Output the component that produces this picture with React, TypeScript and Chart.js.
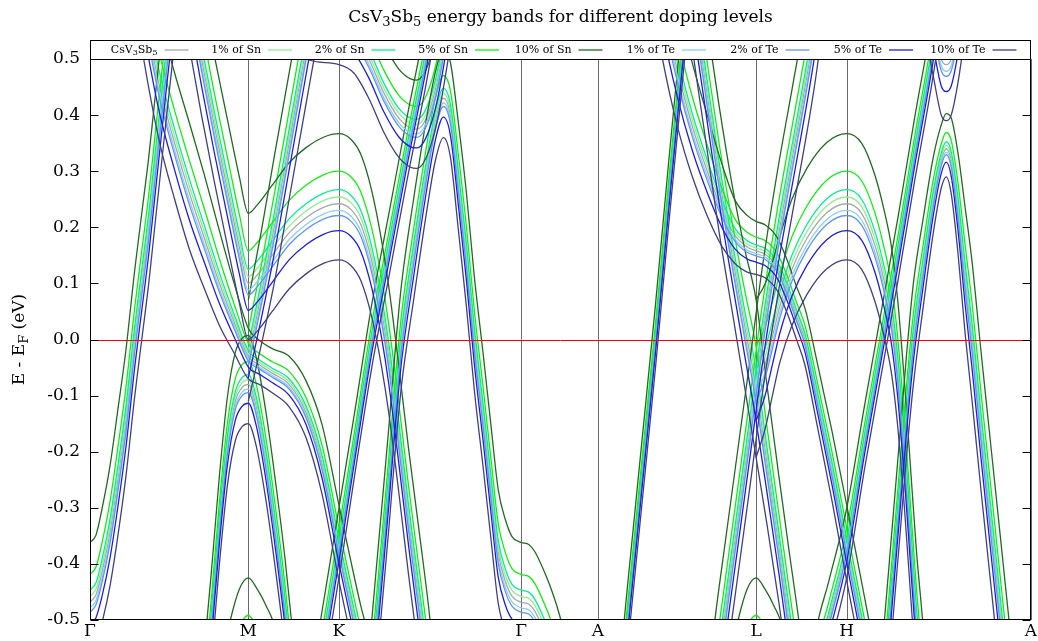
import React, { useEffect, useRef } from 'react';
import { Chart, registerables } from 'chart.js';

Chart.register(...registerables);

// k-path positions of the high-symmetry points and their labels
const SYMMETRY_POSITIONS = [0, 159, 250, 433, 510, 669, 760, 945];
const SYMMETRY_LABELS = ['Γ', 'M', 'K', 'Γ', 'A', 'L', 'H', 'A'];
const ENERGY_TICKS = [-0.5, -0.4, -0.3, -0.2, -0.1, 0.0, 0.1, 0.2, 0.3, 0.4, 0.5];

// doping series
const DOPING_LABELS = ['CsV_3Sb_5', '1% of Sn', '2% of Sn', '5% of Sn', '10% of Sn', '1% of Te', '2% of Te', '5% of Te', '10% of Te'];
const DOPING_COLORS = ['#a8a8a8', '#90ee90', '#00f090', '#11ee11', '#1f6b1f', '#87cefa', '#6495ed', '#1c1ce6', '#3f3f86'];
// energy shift of each doped band set relative to pristine CsV3Sb5 (eV)
const DOPING_SHIFTS = [0, 0.012, 0.025, 0.058, 0.125, -0.012, -0.021, -0.048, -0.1];

// pristine bands: [k, E (eV), local spread of the doping shift]
const BAND_GM_RISE = [[0, -0.468, 0.85], [6, -0.455, 0.85], [12, -0.415, 0.9], [20, -0.345, 0.95], [28, -0.25, 1], [36, -0.145, 1], [45, 0.0, 1], [52, 0.1, 1], [59, 0.2, 1], [65, 0.3, 1], [71, 0.4, 1], [77, 0.5, 1], [85, 0.63, 1], [90, 0.72, 1]];
const BAND_GM_FLAT_K = [[35, 0.85, 1], [45, 0.7, 1], [52, 0.62, 1], [62, 0.52, 1], [70, 0.45, 1], [85, 0.35, 1], [100, 0.26, 1], [115, 0.18, 0.9], [130, 0.1, 0.75], [145, 0.03, 0.55], [159, -0.03, 0.4], [170, -0.045, 0.35], [183, -0.06, 0.35], [200, -0.08, 0.4], [217, -0.13, 0.45], [233, -0.22, 0.55], [250, -0.37, 0.6], [262, -0.47, 0.6], [272, -0.55, 0.6], [282, -0.62, 0.6], [290, -0.7, 0.6]];
const BAND_M_POCKET_K = [[90, 0.72, 1], [100, 0.62, 1], [112, 0.5, 1], [125, 0.38, 1], [140, 0.25, 1], [150, 0.165, 1], [159, 0.1, 1], [168, 0.115, 1], [183, 0.15, 1], [200, 0.19, 1], [217, 0.217, 1], [235, 0.236, 1], [250, 0.242, 1], [262, 0.232, 1], [272, 0.205, 1], [283, 0.14, 1], [293, 0.05, 1], [300, -0.03, 1], [310, -0.17, 1], [320, -0.32, 1], [333, -0.5, 1], [340, -0.6, 1], [346, -0.7, 1]];
const BAND_M_LAMBDA = [[112, -0.72, 0.7], [116, -0.62, 0.7], [122, -0.5, 0.7], [130, -0.33, 0.7], [138, -0.19, 0.7], [146, -0.11, 0.7], [153, -0.085, 0.7], [159, -0.08, 0.7], [167, -0.12, 0.7], [177, -0.22, 0.7], [187, -0.35, 0.7], [196, -0.48, 0.7], [203, -0.6, 0.7], [208, -0.7, 0.7]];
const BAND_M_BOTTOM = [[115, -0.85, 1], [128, -0.74, 1], [141, -0.625, 1], [150, -0.57, 1], [159, -0.55, 1], [168, -0.57, 1], [177, -0.6, 1], [186, -0.64, 1], [200, -0.78, 1]];
const BAND_MK_RISE = [[159, -0.03, 0.8], [165, 0.02, 0.85], [172, 0.08, 0.9], [185, 0.2, 1], [200, 0.35, 1], [212, 0.47, 1], [225, 0.6, 1], [235, 0.7, 1]];
const BAND_KG_TOP = [[190, 0.62, 0.7], [217, 0.57, 0.7], [250, 0.56, 0.7], [265, 0.545, 0.7], [280, 0.5, 0.7], [295, 0.44, 0.7], [310, 0.395, 0.7], [322, 0.377, 0.7], [328, 0.375, 0.7], [335, 0.385, 0.7], [343, 0.42, 0.7], [350, 0.47, 0.7], [357, 0.54, 0.7], [364, 0.62, 0.7], [370, 0.7, 0.7]];
const BAND_K_DIRAC_RISE = [[215, -0.75, 0.55], [225, -0.64, 0.55], [238, -0.5, 0.55], [250, -0.37, 0.55], [266, -0.19, 0.5], [283, 0.0, 0.5], [300, 0.16, 0.5], [318, 0.33, 0.5], [337, 0.5, 0.5], [345, 0.58, 0.5], [352, 0.66, 0.5], [358, 0.72, 0.5]];
const BAND_KG_LAMBDA = [[276, -0.75, 0.8], [282, -0.62, 0.8], [290, -0.46, 0.8], [300, -0.26, 0.8], [307, -0.11, 0.8], [313, 0.0, 0.8], [325, 0.15, 0.8], [337, 0.29, 0.75], [347, 0.39, 0.7], [355, 0.43, 0.7], [362, 0.4, 0.75], [370, 0.28, 0.85], [378, 0.15, 0.9], [386, 0.0, 0.9], [395, -0.14, 0.9], [403, -0.27, 0.9], [410, -0.38, 0.9], [417, -0.43, 0.88], [424, -0.458, 0.85], [433, -0.468, 0.85], [441, -0.472, 0.85], [447, -0.485, 0.85], [457, -0.523, 0.85], [465, -0.56, 0.85], [472, -0.6, 0.85], [480, -0.66, 0.85], [488, -0.72, 0.85]];
const BAND_AL_RISE = [[522, -0.8, 0.5], [530, -0.68, 0.5], [540, -0.5, 0.5], [554, -0.25, 0.5], [568, 0.0, 0.5], [581, 0.25, 0.5], [594, 0.49, 0.5], [600, 0.6, 0.5], [606, 0.7, 0.5]];
const BAND_AL_SHOULDER_H = [[550, 0.85, 1], [560, 0.75, 1], [575, 0.6, 1], [590, 0.48, 1], [605, 0.38, 0.9], [620, 0.3, 0.8], [635, 0.23, 0.65], [648, 0.185, 0.5], [660, 0.165, 0.45], [669, 0.158, 0.42], [678, 0.152, 0.42], [690, 0.13, 0.42], [700, 0.09, 0.42], [710, 0.04, 0.42], [718, 0.0, 0.45], [730, -0.1, 0.5], [745, -0.23, 0.55], [760, -0.37, 0.6], [772, -0.48, 0.6], [785, -0.6, 0.6], [795, -0.7, 0.6]];
const BAND_L_DOWN = [[598, 0.72, 1], [605, 0.62, 1], [618, 0.46, 1], [632, 0.29, 1], [646, 0.14, 1], [658, 0.02, 1.1], [669, -0.085, 1.25], [680, -0.22, 1.1], [692, -0.37, 1], [702, -0.5, 1], [710, -0.6, 1], [716, -0.68, 1]];
const BAND_L_UP = [[622, -0.72, 1], [628, -0.62, 1], [637, -0.5, 1], [650, -0.33, 1], [663, -0.16, 1], [675, 0.0, 1], [690, 0.17, 1], [705, 0.32, 1], [723, 0.5, 1], [730, 0.58, 1], [737, 0.68, 1]];
const BAND_L_POCKET_H = [[669, -0.085, 1.25], [678, -0.045, 1.15], [686, 0.01, 1.05], [693, 0.06, 1], [705, 0.125, 1], [720, 0.18, 1], [740, 0.226, 1], [760, 0.242, 1], [775, 0.225, 1], [788, 0.17, 1], [797, 0.11, 1], [805, 0.04, 1], [811, -0.05, 1], [818, -0.2, 1], [824, -0.35, 1], [830, -0.5, 1], [835, -0.6, 1], [840, -0.7, 1]];
const BAND_L_BOTTOM = [[625, -0.85, 1], [638, -0.74, 1], [651, -0.625, 1], [660, -0.57, 1], [669, -0.55, 1], [678, -0.57, 1], [687, -0.6, 1], [696, -0.64, 1], [710, -0.78, 1]];
const BAND_H_DIRAC_RISE = [[718, -0.75, 0.55], [728, -0.6, 0.55], [742, -0.5, 0.55], [760, -0.37, 0.55], [778, -0.18, 0.5], [796, 0.0, 0.5], [812, 0.16, 0.5], [828, 0.33, 0.5], [845, 0.5, 0.5], [852, 0.58, 0.5], [860, 0.68, 0.5]];
const BAND_HA_LAMBDA = [[790, -0.75, 0.8], [797, -0.62, 0.8], [805, -0.45, 0.8], [813, -0.28, 0.8], [820, -0.13, 0.8], [827, 0.0, 0.8], [837, 0.13, 0.7], [847, 0.25, 0.6], [855, 0.32, 0.5], [860, 0.34, 0.5], [865, 0.32, 0.6], [872, 0.23, 0.8], [879, 0.11, 1], [886, 0.0, 1.1], [895, -0.16, 1.1], [905, -0.33, 1.1], [915, -0.5, 1.1], [922, -0.62, 1.1], [928, -0.72, 1.1]];
const BAND_HA_TOP = [[832, 0.74, 1], [838, 0.66, 1], [848, 0.56, 1], [855, 0.5, 1], [860, 0.49, 1], [865, 0.5, 1], [872, 0.56, 1], [880, 0.66, 1], [886, 0.74, 1]];

const BANDS = [
  BAND_GM_RISE, BAND_GM_FLAT_K, BAND_M_POCKET_K, BAND_M_LAMBDA, BAND_M_BOTTOM, BAND_MK_RISE,
  BAND_KG_TOP, BAND_K_DIRAC_RISE, BAND_KG_LAMBDA, BAND_AL_RISE, BAND_AL_SHOULDER_H, BAND_L_DOWN,
  BAND_L_UP, BAND_L_POCKET_H, BAND_L_BOTTOM, BAND_H_DIRAC_RISE, BAND_HA_LAMBDA, BAND_HA_TOP,
];

const SERIF = '"DejaVu Serif", serif';

function drawRich(ctx: CanvasRenderingContext2D, text: string, x: number, y: number, size: number, align: 'left' | 'center' | 'right') {
  const segs: { t: string; sub: boolean }[] = [];
  for (let i = 0; i < text.length; i++) {
    if (text[i] === '_' && i + 1 < text.length) {
      segs.push({ t: text[i + 1], sub: true });
      i++;
    } else {
      const last = segs[segs.length - 1];
      if (last && !last.sub) last.t += text[i];
      else segs.push({ t: text[i], sub: false });
    }
  }
  const subSize = Math.round(size * 0.75);
  let total = 0;
  const widths = segs.map((s) => {
    ctx.font = `${s.sub ? subSize : size}px ${SERIF}`;
    const w = ctx.measureText(s.t).width;
    total += w;
    return w;
  });
  let cx = align === 'left' ? x : align === 'center' ? x - total / 2 : x - total;
  ctx.textAlign = 'left';
  ctx.textBaseline = 'middle';
  segs.forEach((s, i) => {
    ctx.font = `${s.sub ? subSize : size}px ${SERIF}`;
    ctx.fillText(s.t, cx, s.sub ? y + size * 0.3 : y);
    cx += widths[i];
  });
}

const overlayPlugin = {
  id: 'bandOverlay',
  beforeDatasetsDraw(chart: any) {
    const { ctx, chartArea: a, scales } = chart;
    ctx.save();
    ctx.strokeStyle = '#6a6a6a';
    ctx.lineWidth = 1;
    SYMMETRY_POSITIONS.forEach((k) => {
      const x = Math.round(scales.x.getPixelForValue(k)) + 0.5;
      ctx.beginPath();
      ctx.moveTo(x, a.top);
      ctx.lineTo(x, a.bottom);
      ctx.stroke();
    });
    ctx.restore();
  },
  afterDatasetsDraw(chart: any) {
    const { ctx, chartArea: a, scales } = chart;
    ctx.save();
    // Fermi level
    const y0 = Math.round(scales.y.getPixelForValue(0)) + 0.5;
    ctx.strokeStyle = '#ff0000';
    ctx.lineWidth = 1;
    ctx.beginPath();
    ctx.moveTo(a.left, y0);
    ctx.lineTo(a.right, y0);
    ctx.stroke();
    // border
    ctx.strokeStyle = '#000';
    ctx.lineWidth = 1;
    const L = Math.round(a.left) + 0.5;
    const R = Math.round(a.right) - 0.5;
    const T = Math.round(a.top) + 0.5;
    const B = Math.round(a.bottom) - 0.5;
    ctx.strokeRect(L, T, R - L, B - T);
    // inward y ticks
    ENERGY_TICKS.forEach((v) => {
      const y = Math.round(scales.y.getPixelForValue(v)) + 0.5;
      ctx.beginPath();
      ctx.moveTo(L, y);
      ctx.lineTo(L + 8, y);
      ctx.moveTo(R, y);
      ctx.lineTo(R - 8, y);
      ctx.stroke();
    });
    // legend box
    const boxTop = T - 19;
    ctx.strokeRect(L, boxTop, R - L, 19);
    const step = (R - L - 112) / (DOPING_LABELS.length - 1);
    DOPING_LABELS.forEach((lab, i) => {
      const lineEnd = L + 98 + i * step;
      const lineStart = lineEnd - 24;
      const yy = boxTop + 9.5;
      ctx.strokeStyle = DOPING_COLORS[i];
      ctx.lineWidth = 1.3;
      ctx.beginPath();
      ctx.moveTo(lineStart, yy);
      ctx.lineTo(lineEnd, yy);
      ctx.stroke();
      ctx.fillStyle = '#000';
      drawRich(ctx, lab, lineStart - 7, yy, 11, 'right');
    });
    // title
    ctx.fillStyle = '#000';
    drawRich(ctx, 'CsV_3Sb_5 energy bands for different doping levels', (a.left + a.right) / 2, 18, 17, 'center');
    // y axis title
    ctx.translate(20, (a.top + a.bottom) / 2);
    ctx.rotate(-Math.PI / 2);
    drawRich(ctx, 'E - E_F (eV)', 0, 0, 17, 'center');
    ctx.restore();
  },
};

export default function App() {
  const ref = useRef<HTMLCanvasElement | null>(null);
  useEffect(() => {
    if (!ref.current) return;
    const datasets: any[] = [];
    for (let d = DOPING_LABELS.length - 1; d >= 0; d--) {
      BANDS.forEach((band) => {
        datasets.push({
          label: DOPING_LABELS[d],
          data: band.map(([k, e, s]) => ({ x: k, y: e + DOPING_SHIFTS[d] * s })),
          borderColor: DOPING_COLORS[d],
          borderWidth: 1.3,
          pointRadius: 0,
          fill: false,
          cubicInterpolationMode: 'monotone',
        });
      });
    }
    const chart = new Chart(ref.current, {
      type: 'line',
      data: { datasets },
      options: {
        animation: false,
        responsive: false,
        events: [],
        layout: { padding: { top: 59, right: 3, left: 0, bottom: 0 } },
        plugins: { legend: { display: false }, tooltip: { enabled: false }, title: { display: false } },
        scales: {
          x: {
            type: 'linear',
            min: 0,
            max: 945,
            afterBuildTicks: (s: any) => {
              s.ticks = SYMMETRY_POSITIONS.map((v) => ({ value: v }));
            },
            afterFit: (s: any) => {
              s.height = 21;
            },
            ticks: {
              autoSkip: false,
              maxRotation: 0,
              padding: 1,
              color: '#000',
              font: { family: SERIF, size: 17 },
              callback: (_v: any, i: number) => SYMMETRY_LABELS[i],
            },
            grid: { display: false, drawTicks: false },
            border: { display: false },
          },
          y: {
            type: 'linear',
            min: -0.5,
            max: 0.5,
            afterBuildTicks: (s: any) => {
              s.ticks = ENERGY_TICKS.map((v) => ({ value: v }));
            },
            afterFit: (s: any) => {
              s.width = 90;
            },
            ticks: {
              padding: 10,
              color: '#000',
              font: { family: SERIF, size: 17 },
              callback: (v: any) => Number(v).toFixed(1),
            },
            grid: { display: false, drawTicks: false },
            border: { display: false },
          },
        },
      },
      plugins: [overlayPlugin],
    });
    return () => chart.destroy();
  }, []);
  return (
    <div style={{ position: 'fixed', left: 0, top: 0, width: 1038, height: 641, background: '#fff' }}>
      <canvas ref={ref} width={1038} height={641} style={{ width: 1038, height: 641 }} />
    </div>
  );
}
